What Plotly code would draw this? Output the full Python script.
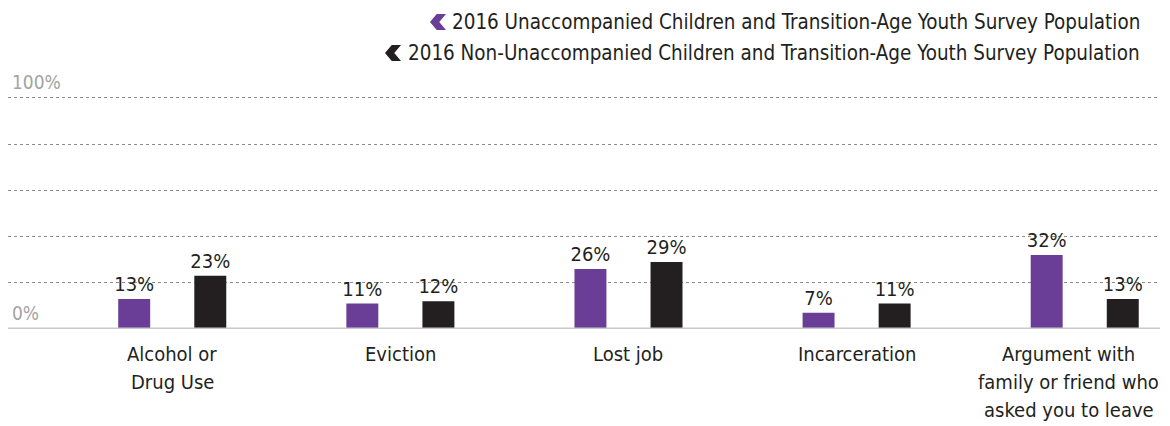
import plotly.graph_objects as go

categories = ["Alcohol or<br>Drug Use", "Eviction", "Lost job", "Incarceration",
              "Argument with<br>family or friend who<br>asked you to leave"]
unaccompanied = [13, 11, 26, 7, 32]
non_unaccompanied = [23, 12, 29, 11, 13]
series_names = ["2016 Unaccompanied Children and Transition-Age Youth Survey Population",
                "2016 Non-Unaccompanied Children and Transition-Age Youth Survey Population"]
colors = ["#6a3d96", "#231f20"]
y_ticks = [0, 20, 40, 60, 80, 100]

FONT = "DejaVu Sans Condensed, DejaVu Sans, sans-serif"
TXT = "#231f20"

fig = go.Figure()
for vals, name, col in [(unaccompanied, series_names[0], colors[0]),
                        (non_unaccompanied, series_names[1], colors[1])]:
    fig.add_trace(go.Bar(
        x=categories, y=vals, name=name, marker=dict(color=col, line=dict(width=0)),
        text=[f"{v}%" for v in vals], textposition="outside", constraintext="none",
        textfont=dict(size=20, color=TXT, family=FONT), cliponaxis=False,
        showlegend=False,
    ))

fig.update_layout(
    width=1162, height=418,
    margin=dict(l=0, r=10, t=83, b=97, autoexpand=False),
    paper_bgcolor="white", plot_bgcolor="white",
    barmode="group", bargap=0.333, bargroupgap=0.58,
    font=dict(family=FONT, color=TXT, size=20),
    xaxis=dict(range=[-0.72, 4.33], showgrid=False, showline=False, ticks="",
               showticklabels=False, automargin=False, fixedrange=True),
    yaxis=dict(range=[0, 103], tickvals=y_ticks, showticklabels=False,
               showgrid=True, gridcolor="#8c8c8c", gridwidth=1, griddash="dot",
               zeroline=False, showline=False, ticks="", automargin=False),
)

# baseline
fig.add_shape(type="line", xref="paper", yref="y", x0=0, x1=1, y0=0, y1=0,
              line=dict(color="#c8c8c8", width=3), layer="above")

# category labels (one annotation per line for exact line spacing)
for i, c in enumerate(categories):
    for k, line in enumerate(c.split("<br>")):
        fig.add_annotation(xref="x", yref="y", x=c, y=0, text=line, showarrow=False,
                           xanchor="center", yanchor="middle", yshift=-(25 + 28 * k),
                           xshift=-16 if i == len(categories) - 1 else 0,
                           font=dict(size=20, color=TXT, family=FONT))

# y-axis end labels
for v in [0, 100]:
    fig.add_annotation(xref="paper", yref="y", x=0.002, y=v, text=f"{v}%",
                       showarrow=False, xanchor="left", yanchor="bottom", yshift=3,
                       font=dict(size=19, color="#a3a3a3", family=FONT))

# legend: chevron glyphs + labels
PW, PH, PB = 1152.0, 238.0, 321.0   # plot width, height, bottom (px) for paper coords
def px(xp):
    return xp / PW
def py(yp):
    return (PB - yp) / PH

legend_rows = [(14.0, 422.0), (45.0, 377.0)]  # (row centre y, chevron left x) in px
for (name, col), (cy, cx) in zip(zip(series_names, colors), legend_rows):
    w, h = 16.0, 16.0
    pts = [(cx, cy), (cx + 0.42 * w, cy - h / 2), (cx + w, cy - h / 2),
           (cx + 0.58 * w, cy), (cx + w, cy + h / 2), (cx + 0.42 * w, cy + h / 2)]
    path = "M " + " L ".join(f"{px(x):.5f},{py(y):.5f}" for x, y in pts) + " Z"
    fig.add_shape(type="path", xref="paper", yref="paper", path=path,
                  fillcolor=col, line=dict(width=0))
    fig.add_annotation(xref="paper", yref="paper", x=px(1134), y=py(cy),
                       text=name, showarrow=False, xanchor="right", yanchor="middle",
                       font=dict(size=20.45, color=TXT, family=FONT))

fig.write_html("out.html")
